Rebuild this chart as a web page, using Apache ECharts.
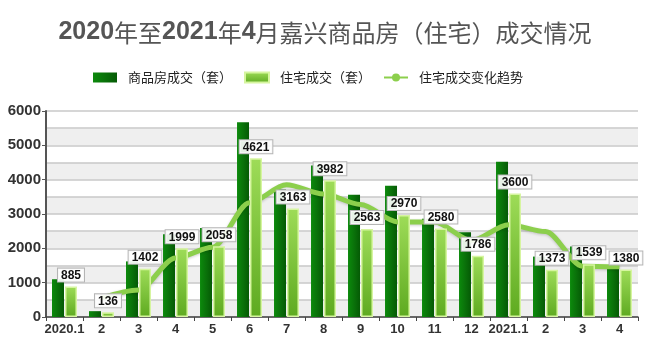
<!DOCTYPE html>
<html>
<head>
<meta charset="utf-8">
<script src="https://cdn.jsdelivr.net/npm/echarts@6/dist/echarts.min.js"></script>
<style>
html, body { margin: 0; padding: 0; background: #fff; }
#chart { width: 650px; height: 351px; }
</style>
</head>
<body>
<div id="chart"></div>
<script>
// months
const categories = ['2020.1', '2', '3', '4', '5', '6', '7', '8', '9', '10', '11', '12', '2021.1', '2', '3', '4']
// 商品房成交（套）-
const commercial = [1100, 170, 1620, 2410, 2590, 5670, 3710, 4410, 3560, 3820, 2860, 2470, 4520, 1760, 2050, 1420]
// 住宅成交（套）- labelled values
const residential = [885, 136, 1402, 1999, 2058, 4621, 3163, 3982, 2563, 2970, 2580, 1786, 3600, 1373, 1539, 1380]
// 住宅成交变化趋势
const trend = [null, 560, 790, 1720, 2030, 3330, 3850, 3580, 3280, 2770, 2770, 2230, 2690, 2490, 1480, 1460]

const chartDom = document.getElementById('chart')
const myChart = echarts.init(chartDom)

const numFont = 'Liberation Sans, Arial, sans-serif'
const cjkFont = '"Noto Sans CJK SC", sans-serif'

const option = {
  animation: false,
  title: {
    text: '{b|2020}年至{b|2021}年{b|4}月嘉兴商品房（住宅）成交情况',
    left: 'center',
    top: 15,
    textStyle: {
      fontFamily: cjkFont,
      fontSize: 24,
      fontWeight: 'normal',
      color: '#555',
      rich: {
        b: { fontFamily: numFont, fontSize: 25, fontWeight: 'bold', color: '#555' }
      }
    }
  },
  legend: {
    left: 88,
    top: 66,
    itemWidth: 24,
    itemHeight: 10,
    itemGap: 12,
    textStyle: { fontFamily: cjkFont, fontSize: 13, color: '#222', padding: [0, 0, 0, 6] },
    data: [
      { name: '商品房成交（套）', icon: 'rect' },
      { name: '住宅成交（套）', icon: 'rect' },
      '住宅成交变化趋势'
    ]
  },
  grid: { left: 46, right: 12, top: 111, bottom: 34 },
  xAxis: {
    type: 'category',
    data: categories,
    axisLine: { lineStyle: { color: '#444', width: 1.5 } },
    axisTick: { show: true, lineStyle: { color: '#444' }, length: 4 },
    axisLabel: { interval: 0, fontFamily: numFont, fontSize: 13, fontWeight: 'bold', color: '#333', margin: 6 }
  },
  yAxis: [
    {
      type: 'value',
      min: 0,
      max: 6000,
      interval: 1000,
      axisLine: { show: true, lineStyle: { color: '#555', width: 2 } },
      axisTick: { show: true, lineStyle: { color: '#555' }, length: 4 },
      axisLabel: {
        fontFamily: numFont, fontSize: 15, fontWeight: 'bold', color: '#333', margin: 5,
        formatter: v => String(v)
      },
      splitLine: { show: false }
    },
    {
      // helper axis for 500-step grid bands
      type: 'value',
      min: 0,
      max: 6000,
      interval: 500,
      position: 'left',
      axisLine: { show: false },
      axisTick: { show: false },
      axisLabel: { show: false },
      splitLine: { show: true, lineStyle: { color: '#c8c8c8', width: 1.5 } },
      splitArea: { show: true, areaStyle: { color: ['#efefef', '#ffffff'] } }
    }
  ],
  series: [
    {
      name: '商品房成交（套）',
      type: 'bar',
      data: commercial,
      barWidth: 12,
      barGap: '8%',
      itemStyle: {
        color: new echarts.graphic.LinearGradient(0, 0, 1, 0, [
          { offset: 0, color: '#0c8a0c' },
          { offset: 0.5, color: '#0a720a' },
          { offset: 1, color: '#055a05' }
        ])
      }
    },
    {
      name: '住宅成交（套）',
      type: 'bar',
      data: residential,
      barWidth: 12,
      itemStyle: {
        borderColor: '#d6f5a0',
        borderWidth: 1.5,
        color: new echarts.graphic.LinearGradient(0, 0, 0, 1, [
          { offset: 0, color: '#9edc58' },
          { offset: 1, color: '#5eaa20' }
        ])
      },
      label: {
        show: true,
        position: 'top',
        distance: 5,
        fontFamily: numFont,
        fontSize: 12,
        fontWeight: 'bold',
        color: '#111',
        backgroundColor: 'rgba(255,255,255,0.9)',
        borderColor: '#b5b5b5',
        borderWidth: 1,
        padding: [1, 3, 0, 3]
      },
      z: 3
    },
    {
      name: '住宅成交变化趋势',
      type: 'line',
      data: trend,
      smooth: 0.3,
      smoothMonotone: 'x',
      symbol: 'circle',
      symbolSize: 8,
      showSymbol: false,
      itemStyle: { color: '#8ccf4c' },
      lineStyle: {
        color: '#8ccf4c',
        width: 5,
        shadowColor: 'rgba(0,0,0,0.2)',
        shadowBlur: 3,
        shadowOffsetY: 1
      },
      z: 2
    }
  ]
}
option && myChart.setOption(option)
</script>
</body>
</html>
